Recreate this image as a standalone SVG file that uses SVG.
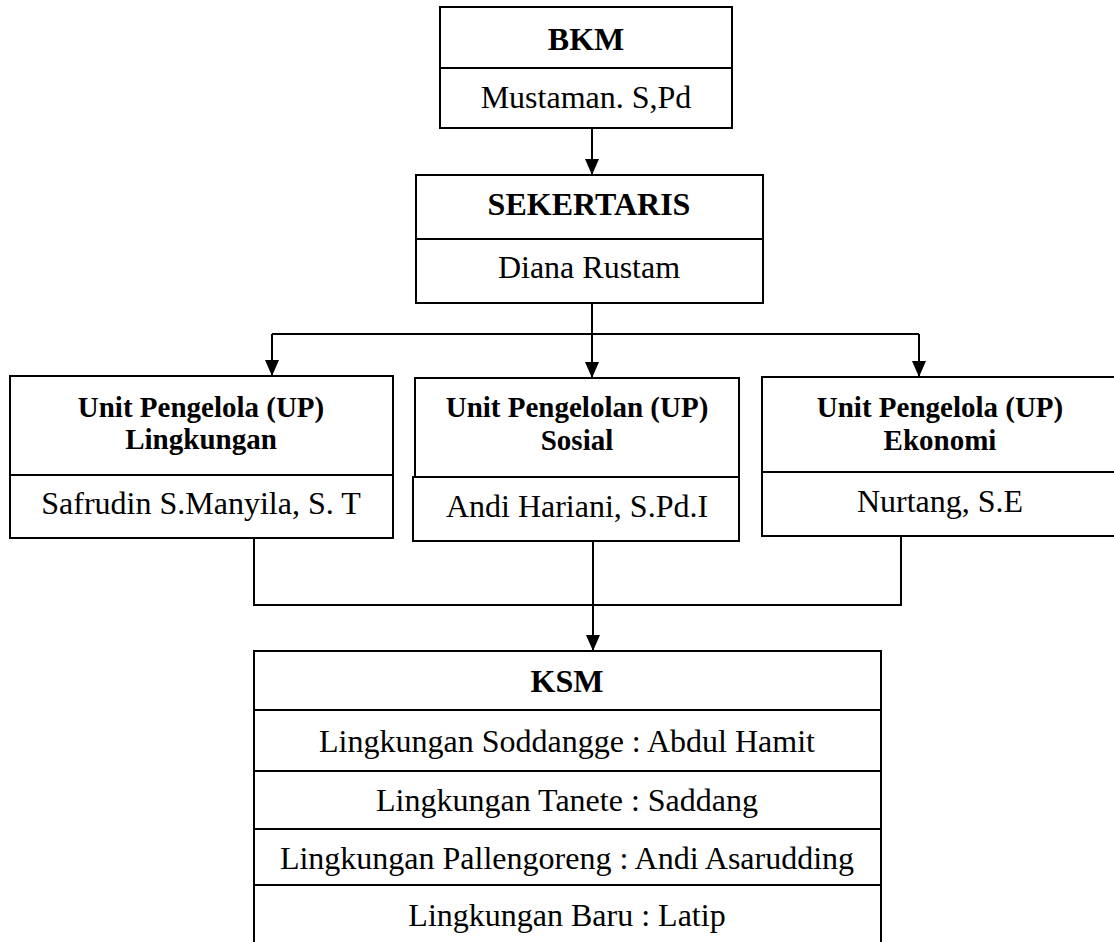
<svg xmlns="http://www.w3.org/2000/svg" width="1114" height="942" viewBox="0 0 1114 942">
<style>
rect{fill:#fff;stroke:#000;stroke-width:2}
text{font-family:"Liberation Serif","Times New Roman",serif;fill:#000;text-anchor:middle}
.r{font-size:32px}
.b{font-size:32px;font-weight:bold}
.u{font-size:29px;font-weight:bold}
.c{fill:none;stroke:#000;stroke-width:2}
</style>
<defs>
<marker id="ah" viewBox="0 0 16 14" refX="16" refY="7" markerWidth="16" markerHeight="14" orient="auto" markerUnits="userSpaceOnUse">
<path d="M0,0 L16,7 L0,14 z" fill="#000"/>
</marker>
</defs>
<rect x="0" y="0" width="1114" height="942" style="stroke:none"/>
<g id="connectors">
<line class="c" x1="592" y1="128" x2="592" y2="175" marker-end="url(#ah)"/>
<polyline class="c" points="592,303 592,334"/>
<polyline class="c" points="272,334 919,334"/>
<line class="c" x1="272" y1="334" x2="272" y2="376" marker-end="url(#ah)"/>
<line class="c" x1="592" y1="334" x2="592" y2="378" marker-end="url(#ah)"/>
<line class="c" x1="919" y1="334" x2="919" y2="377" marker-end="url(#ah)"/>
<polyline class="c" points="254,538 254,605 901,605 901,536"/>
<line class="c" x1="593" y1="541" x2="593" y2="651" marker-end="url(#ah)"/>
</g>
<g id="bkm">
<rect x="440" y="7" width="292" height="61"/>
<rect x="440" y="68" width="292" height="60"/>
<text class="b" x="586" y="50">BKM</text>
<text class="r" x="586" y="108">Mustaman. S,Pd</text>
</g>
<g id="sekertaris">
<rect x="416" y="175" width="347" height="64"/>
<rect x="416" y="239" width="347" height="64"/>
<text class="b" x="589" y="215">SEKERTARIS</text>
<text class="r" x="589" y="278">Diana Rustam</text>
</g>
<g id="up-lingkungan">
<rect x="10" y="376" width="383" height="99"/>
<rect x="10" y="475" width="383" height="63"/>
<text class="u" x="201" y="417">Unit Pengelola (UP)</text>
<text class="u" x="201" y="449">Lingkungan</text>
<text class="r" x="201" y="514">Safrudin S.Manyila, S. T</text>
</g>
<g id="up-sosial">
<rect x="415" y="378" width="324" height="99"/>
<rect x="413" y="477" width="326" height="64"/>
<text class="u" x="577" y="417">Unit Pengelolan (UP)</text>
<text class="u" x="577" y="450">Sosial</text>
<text class="r" x="577" y="517">Andi Hariani, S.Pd.I</text>
</g>
<g id="up-ekonomi">
<rect x="762" y="377" width="356" height="95"/>
<rect x="762" y="472" width="356" height="64"/>
<text class="u" x="940" y="417">Unit Pengelola (UP)</text>
<text class="u" x="940" y="450">Ekonomi</text>
<text class="r" x="940" y="512">Nurtang, S.E</text>
</g>
<g id="ksm">
<rect x="254" y="651" width="627" height="59"/>
<rect x="254" y="710" width="627" height="61"/>
<rect x="254" y="771" width="627" height="58"/>
<rect x="254" y="829" width="627" height="56"/>
<rect x="254" y="885" width="627" height="70"/>
<text class="b" x="567" y="692">KSM</text>
<text class="r" x="567" y="752">Lingkungan Soddangge : Abdul Hamit</text>
<text class="r" x="567" y="811">Lingkungan Tanete : Saddang</text>
<text class="r" x="567" y="869">Lingkungan Pallengoreng : Andi Asarudding</text>
<text class="r" x="567" y="926">Lingkungan Baru : Latip</text>
</g>
</svg>
